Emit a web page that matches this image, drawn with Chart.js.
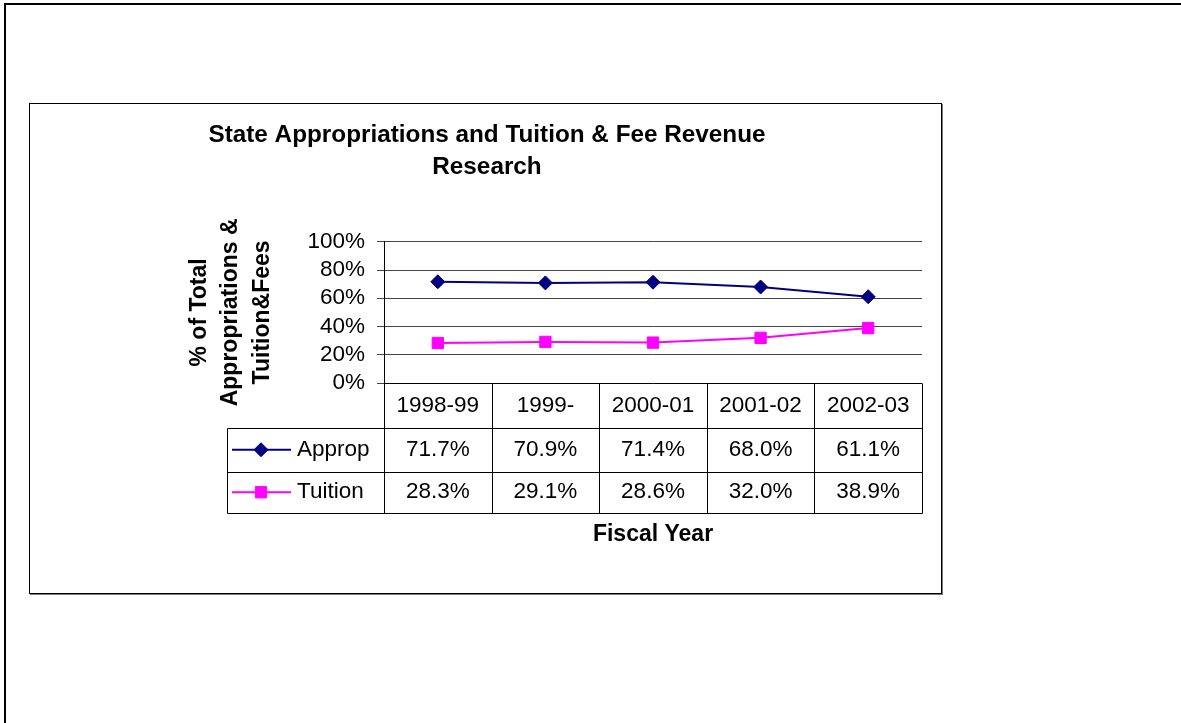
<!DOCTYPE html>
<html>
<head>
<meta charset="utf-8">
<script src="https://cdn.jsdelivr.net/npm/chart.js@4.4.1/dist/chart.umd.min.js"></script>
<style>
    html, body { margin: 0; padding: 0; background: #fff; }
    body { width: 1181px; height: 723px; position: relative; overflow: hidden; }
    #page { position: absolute; left: 4px; top: 3px; right: -10px; bottom: -10px;
            border-top: 2px solid #000; border-left: 2px solid #000; }
    #box { position: absolute; left: 29px; top: 103px; width: 911px; height: 489px;
           border: 1px solid #000; box-shadow: 1px 1px 0 #777; background: #fff; }
</style>
</head>
<body>
<div id="page"></div>
<div id="box"><canvas id="revenueChart"></canvas></div>
<script>
        // Datos
        const fiscalYears = ['1998-99', '1999-', '2000-01', '2001-02', '2002-03'];
        const appropPct = [71.7, 70.9, 71.4, 68.0, 61.1];
        const tuitionPct = [28.3, 29.1, 28.6, 32.0, 38.9];
        const yTicks = [0, 20, 40, 60, 80, 100];

        Chart.defaults.font.family = 'Arial, "Liberation Sans", sans-serif';
        Chart.defaults.color = '#000';

        // Tabla de datos debajo del eje x (con la leyenda a la izquierda)
        const dataTable = {
            id: 'dataTable',
            afterDraw(chart) {
                const { ctx, chartArea, scales } = chart;
                const x = scales.x;
                const colW = (chartArea.right - chartArea.left) / fiscalYears.length;
                const rows = [chartArea.bottom, chartArea.bottom + 44.5, chartArea.bottom + 89, chartArea.bottom + 129.5];
                const legendLeft = 197;
                const px = v => Math.round(v) + 0.5;
                const line = (x1, y1, x2, y2) => {
                    ctx.beginPath();
                    ctx.moveTo(px(x1), px(y1));
                    ctx.lineTo(px(x2), px(y2));
                    ctx.stroke();
                };

                ctx.save();
                ctx.strokeStyle = '#000';
                ctx.lineWidth = 1;
                for (let r = 1; r < rows.length; r++) {
                    line(legendLeft, rows[r], chartArea.right, rows[r]);
                }
                for (let i = 0; i <= fiscalYears.length; i++) {
                    const xx = chartArea.left + i * colW;
                    line(xx, rows[0], xx, rows[3]);
                }
                line(legendLeft, rows[1], legendLeft, rows[3]);

                ctx.font = '22.5px Arial, "Liberation Sans", sans-serif';
                ctx.textBaseline = 'middle';
                chart.data.datasets.forEach((ds, r) => {
                    const yc = (rows[r + 1] + rows[r + 2]) / 2;
                    ctx.fillStyle = '#000';
                    ctx.textAlign = 'center';
                    ds.data.forEach((v, i) => {
                        ctx.fillText(v.toFixed(1) + '%', x.getPixelForValue(i), yc);
                    });
                    ctx.textAlign = 'left';
                    ctx.fillText(ds.label, 267, yc);

                    // muestra de la serie
                    ctx.strokeStyle = ds.borderColor;
                    ctx.lineWidth = 2;
                    ctx.beginPath();
                    ctx.moveTo(202, yc);
                    ctx.lineTo(261, yc);
                    ctx.stroke();
                    ctx.fillStyle = ds.backgroundColor;
                    ctx.lineWidth = 1;
                    Chart.helpers.drawPoint(ctx, {
                        pointStyle: ds.pointStyle,
                        radius: ds.pointRadius,
                        rotation: 0,
                        borderWidth: 1
                    }, 231, yc);
                    ctx.strokeStyle = '#000';
                });
                ctx.restore();
            }
        };

        const revenueData = {
            labels: fiscalYears,
            datasets: [{
                label: 'Approp',
                data: appropPct,
                borderColor: '#000080',
                backgroundColor: '#000080',
                borderWidth: 2,
                pointStyle: 'rectRot',
                pointRadius: 7,
                pointBorderWidth: 1,
                tension: 0
            }, {
                label: 'Tuition',
                data: tuitionPct,
                borderColor: '#FF00FF',
                backgroundColor: '#FF00FF',
                borderWidth: 2,
                pointStyle: 'rect',
                pointRadius: 8,
                pointBorderWidth: 1,
                tension: 0
            }]
        };

        const revenueConfig = {
            type: 'line',
            data: revenueData,
            options: {
                responsive: true,
                maintainAspectRatio: false,
                animation: false,
                layout: { padding: { left: 22, right: 19, top: 0, bottom: 0 } },
                plugins: {
                    legend: { display: false },
                    tooltip: { enabled: false },
                    title: {
                        display: true,
                        text: ['State Appropriations and Tuition & Fee Revenue', 'Research'],
                        color: '#000',
                        font: { size: 24.3, weight: 'bold', lineHeight: 1.3333 },
                        padding: { top: 15, bottom: 58 }
                    }
                },
                scales: {
                    x: {
                        offset: true,
                        afterFit: s => { s.height = 210; },
                        grid: { display: false, drawTicks: false },
                        border: { display: false },
                        ticks: { color: '#000', font: { size: 22.5 }, padding: 9, maxRotation: 0, autoSkip: false },
                        title: {
                            display: true,
                            text: 'Fiscal Year',
                            color: '#000',
                            font: { size: 23, weight: 'bold' },
                            padding: { top: 0, bottom: 44.7 }
                        }
                    },
                    y: {
                        min: 0,
                        max: 100,
                        afterBuildTicks: s => { s.ticks = yTicks.map(v => ({ value: v })); },
                        afterFit: s => { s.width = 332; },
                        ticks: { callback: v => v + '%', color: '#000', font: { size: 22.5 }, padding: 12, autoSkip: false },
                        grid: {
                            color: c => (c.tick && c.tick.value === 0 ? '#000' : '#444'),
                            tickColor: '#444',
                            tickLength: 7
                        },
                        border: { color: '#000', width: 1 },
                        title: {
                            display: true,
                            text: ['% of Total', 'Appropriations &', 'Tuition&Fees'],
                            color: '#000',
                            font: { size: 23, weight: 'bold', lineHeight: 1.36 },
                            padding: { top: 132, bottom: 0 }
                        }
                    }
                }
            },
            plugins: [dataTable]
        };

        const revenueChart = new Chart(
            document.getElementById('revenueChart'),
            revenueConfig
        );
</script>
</body>
</html>
